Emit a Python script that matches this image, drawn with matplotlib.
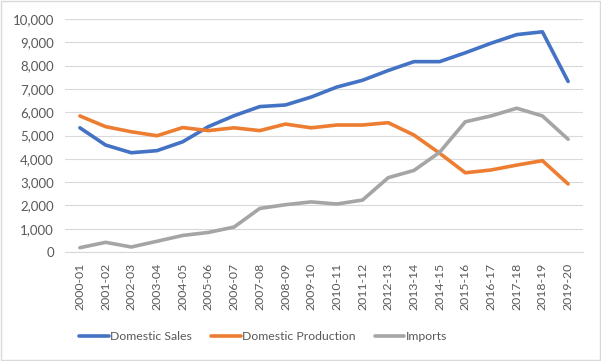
import matplotlib
matplotlib.use("Agg")
import matplotlib.pyplot as plt
from matplotlib.ticker import FuncFormatter, MultipleLocator

years = ["2000-01", "2001-02", "2002-03", "2003-04", "2004-05", "2005-06", "2006-07",
         "2007-08", "2008-09", "2009-10", "2010-11", "2011-12", "2012-13", "2013-14",
         "2014-15", "2015-16", "2016-17", "2017-18", "2018-19", "2019-20"]
domestic_sales = [5330, 4590, 4260, 4350, 4730, 5380, 5850, 6240, 6310, 6650,
                  7080, 7370, 7790, 8170, 8170, 8550, 8960, 9330, 9450, 7320]
domestic_production = [5840, 5380, 5160, 4990, 5340, 5210, 5330, 5210, 5490, 5330,
                       5450, 5450, 5550, 5020, 4240, 3400, 3520, 3730, 3920, 2920]
imports = [185, 415, 215, 460, 710, 840, 1070, 1870, 2030, 2150,
           2060, 2230, 3190, 3500, 4280, 5590, 5840, 6170, 5840, 4840]

plt.rcParams['font.family'] = ['Lato', 'DejaVu Sans']
fig = plt.figure(figsize=(6.01, 3.61), dpi=100)
fig.patch.set_facecolor('white')
ax = fig.add_axes([65/601, 109/361, 518/601, 233/361])

x = list(range(len(years)))
ax.plot(x, domestic_sales, color='#4472C4', lw=2.6, label='Domestic Sales', solid_capstyle='round')
ax.plot(x, domestic_production, color='#ED7D31', lw=2.6, label='Domestic Production', solid_capstyle='round')
ax.plot(x, imports, color='#A5A5A5', lw=2.6, label='Imports', solid_capstyle='round')

ax.set_ylim(0, 10000)
ax.set_xlim(-0.58, len(years) - 0.42)
ax.yaxis.set_major_locator(MultipleLocator(1000))
ax.yaxis.set_major_formatter(FuncFormatter(lambda v, p: f"{int(v):,}"))
ax.grid(axis='y', color='#D9D9D9', lw=0.8)
ax.set_axisbelow(True)
for s in ['top', 'right', 'left']:
    ax.spines[s].set_visible(False)
ax.spines['bottom'].set_color('#D9D9D9')
ax.set_xticks(x)
ax.set_xticklabels(years, rotation=90)
ax.tick_params(axis='y', length=0, labelsize=9.5, labelcolor='#595959', pad=8)
ax.tick_params(axis='x', length=0, labelsize=8.8, labelcolor='#595959', pad=8)

fig.legend(loc='center', bbox_to_anchor=(263/601, 24/361), ncol=3, frameon=False,
           fontsize=8.8, labelcolor='#595959', handlelength=2.4, handletextpad=0.1,
           columnspacing=1.6)

border = plt.Rectangle((0.001, 0.002), 0.997, 0.995, transform=fig.transFigure,
                       fill=False, edgecolor='#D9D9D9', lw=1)
fig.patches.append(border)

fig.savefig('out.png', dpi=100)
